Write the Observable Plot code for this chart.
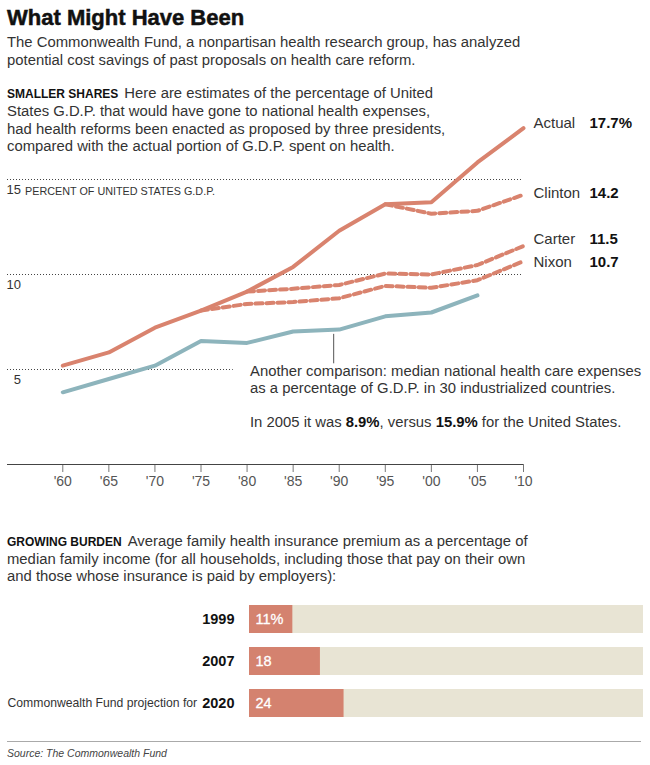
<!DOCTYPE html>
<html>
<head>
<meta charset="utf-8">
<script src="https://cdn.jsdelivr.net/npm/d3@7"></script>
<script src="https://cdn.jsdelivr.net/npm/@observablehq/plot@0.6"></script>
<style>
  body { margin: 0; background: #fff; }
  #wrap { position: relative; width: 650px; height: 765px; overflow: hidden;
          font-family: "Liberation Sans", Arial, Helvetica, sans-serif; color: #333; }
  .abs { position: absolute; white-space: nowrap; }
  .title { left: 7px; top: 5px; font-size: 22px; line-height: 26px; font-weight: bold; color: #111; -webkit-text-stroke: 0.5px #111; }
  .txt { font-size: 14.85px; line-height: 17.5px; }
  .kicker { font-weight: bold; font-size: 12px; color: #111; margin-right: 6px; }
  #lineChart { position: absolute; left: 0; top: 80px; }
  #barChart { position: absolute; left: 0; top: 590px; }
  .rule { position: absolute; left: 7px; width: 634px; top: 741px; height: 0; border-top: 1.5px solid #aaa; }
  .source { left: 7px; top: 747px; font-size: 10.5px; line-height: 12px; font-style: italic; color: #444; }
  b { color: #111; }
</style>
</head>
<body>
<div id="wrap">
  <div class="abs title">What Might Have Been</div>
  <div class="abs txt" style="left:7px;top:34px;">The Commonwealth Fund, a nonpartisan health research group, has analyzed<br>potential cost savings of past proposals on health care reform.</div>
  <div class="abs txt" style="left:7px;top:84.5px;"><span class="kicker">SMALLER SHARES</span>Here are estimates of the percentage of United<br>States G.D.P. that would have gone to national health expenses,<br>had health reforms been enacted as proposed by three presidents,<br>compared with the actual portion of G.D.P. spent on health.</div>
  <div id="lineChart"></div>
  <div class="abs txt" style="left:250px;top:362.7px;">Another comparison: median national health care expenses<br>as a percentage of G.D.P. in 30 industrialized countries.</div>
  <div class="abs txt" style="left:250px;top:413.7px;">In 2005 it was <b>8.9%</b>, versus <b>15.9%</b> for the United States.</div>
  <div class="abs txt" style="left:7px;top:533px;line-height:16.8px;"><span class="kicker">GROWING BURDEN</span>Average family health insurance premium as a percentage of<br>median family income (for all households, including those that pay on their own<br>and those whose insurance is paid by employers):</div>
  <div id="barChart"></div>
  <div class="rule"></div>
  <div class="abs source">Source: The Commonwealth Fund</div>
</div>
<script>
// ---------- Data ----------
const years = [1960, 1965, 1970, 1975, 1980, 1985, 1990, 1995, 2000, 2005, 2010];
const actual = [5.2, 5.9, 7.2, 8.1, 9.1, 10.4, 12.3, 13.7, 13.8, 15.9, 17.7];
const nixonYears = [1975, 1980, 1985, 1990, 1995, 2000, 2005, 2010];
const nixon = [8.1, 8.45, 8.55, 8.75, 9.4, 9.3, 9.7, 10.7];
const carterYears = [1980, 1985, 1990, 1995, 2000, 2005, 2010];
const carter = [9.1, 9.25, 9.45, 10.05, 10.0, 10.5, 11.5];
const clintonYears = [1995, 2000, 2005, 2010];
const clinton = [13.7, 13.2, 13.35, 14.2];
const medianYears = [1960, 1965, 1970, 1975, 1980, 1985, 1990, 1995, 2000, 2005];
const median30 = [3.8, 4.5, 5.2, 6.5, 6.4, 7.0, 7.1, 7.8, 8.0, 8.9];
const tickYears = [1960, 1965, 1970, 1975, 1980, 1985, 1990, 1995, 2000, 2005, 2010];
const gridValues = [15, 10, 5];
const gridEnds = [2010, 2010, 1978.5];
const endLabels = ["Actual", "Clinton", "Carter", "Nixon"];
const endValues = [17.7, 14.2, 11.5, 10.7];
const endValueText = ["17.7%", "14.2", "11.5", "10.7"];

const barYears = ["1999", "2007", "2020"];
const barValues = [11, 18, 24];
const barValueText = ["11%", "18", "24"];
const barPrefix = ["", "", "Commonwealth Fund projection for"];

// ---------- Line chart ----------
const toRows = (xs, vs) => xs.map((x, i) => ({year: x, v: vs[i]}));
const red = "#d9836e", blue = "#8db4bc";
const dash = "7,4";
const font = '"Liberation Sans", Arial, Helvetica, sans-serif';
const labelRows = endLabels.map((n, i) => ({name: n, v: endValues[i], t: endValueText[i]}));
const labelDy = {Actual: -4.8, Clinton: -1.7, Carter: -7, Nixon: 0.5};

const H = 420, mTop = 4, mBottom = 36, yMax = 20;
const pxPerUnit = (H - mTop - mBottom) / yMax;
const tickUnits = 8 / pxPerUnit;
const fmtYear = d => "'" + String(d).slice(2);

const lineMarks = [
  Plot.ruleY(gridValues, {y: d => d, x1: 1954, x2: (d, i) => gridEnds[i], stroke: "#444", strokeDasharray: "1,2", strokeWidth: 1}),
  Plot.text(gridValues, {x: 1954, y: d => d, text: d => String(d), textAnchor: "end", dx: 13.5, dy: 10.8, fontSize: 13, fill: "#333"}),
  Plot.text(gridValues.filter(d => d === 15), {x: 1954, y: d => d, text: () => "PERCENT OF UNITED STATES G.D.P.", textAnchor: "start", dx: 17.5, dy: 11.6, fontSize: 10.8, fill: "#333"}),
  Plot.ruleX(tickYears, {x: d => d, y1: 0, y2: -tickUnits, stroke: "#777", strokeWidth: 1}),
  Plot.text(tickYears, {x: d => d, y: 0, text: fmtYear, dy: 17.5, fontSize: 14, fill: "#555"}),
  Plot.ruleY([0], {stroke: "#444", strokeWidth: 1.2}),
  Plot.line(toRows(medianYears, median30), {x: "year", y: "v", stroke: blue, strokeWidth: 4, strokeLinejoin: "round"}),
  Plot.line(toRows(nixonYears, nixon), {x: "year", y: "v", stroke: red, strokeWidth: 4, strokeDasharray: dash}),
  Plot.line(toRows(carterYears, carter), {x: "year", y: "v", stroke: red, strokeWidth: 4, strokeDasharray: dash}),
  Plot.line(toRows(clintonYears, clinton), {x: "year", y: "v", stroke: red, strokeWidth: 4, strokeDasharray: dash}),
  Plot.line(toRows(years, actual), {x: "year", y: "v", stroke: red, strokeWidth: 4, strokeLinejoin: "round"}),
  Plot.ruleX([1989.4], {x: d => d, y1: 6.85, y2: 5.3, stroke: "#555", strokeWidth: 1})
];
for (const row of labelRows) {
  lineMarks.push(Plot.text([row], {x: 2010, y: "v", text: "name", textAnchor: "start", dx: 10, dy: labelDy[row.name], fontSize: 15, fill: "#333"}));
  lineMarks.push(Plot.text([row], {x: 2010, y: "v", text: "t", textAnchor: "start", dx: 66, dy: labelDy[row.name], fontSize: 15, fontWeight: "bold", fill: "#111"}));
}

const linePlot = Plot.plot({
  width: 650, height: H,
  marginLeft: 7, marginRight: 127, marginTop: mTop, marginBottom: mBottom,
  x: {domain: [1954, 2010], axis: null},
  y: {domain: [0, yMax], axis: null},
  style: {background: "transparent", fontFamily: font, fontSize: "13px", color: "#555", overflow: "visible"},
  marks: lineMarks
});
document.getElementById("lineChart").appendChild(linePlot);

// ---------- Bar chart ----------
const barRows = barYears.map((y, i) => ({year: y, v: barValues[i], t: barValueText[i], prefix: barPrefix[i]}));
const barPlot = Plot.plot({
  width: 650, height: 142,
  marginLeft: 249, marginRight: 7, marginTop: 0, marginBottom: 0,
  x: {domain: [0, 100], axis: null},
  y: {domain: barYears, padding: 0.341, axis: null},
  style: {background: "transparent", fontFamily: font, overflow: "visible"},
  marks: [
    Plot.barX(barRows, {y: "year", x1: 0, x2: 100, fill: "#e8e4d4"}),
    Plot.barX(barRows, {y: "year", x1: 0, x2: "v", fill: "#d4826f"}),
    Plot.text(barRows, {y: "year", x: 0, text: "t", textAnchor: "start", dx: 6, fontSize: 14.5, fill: "white", stroke: "white", strokeWidth: 0.3}),
    Plot.text(barRows, {y: "year", x: 0, text: "year", textAnchor: "end", dx: -15, fontSize: 14.5, fontWeight: "bold", fill: "#111"}),
    Plot.text(barRows.filter(d => d.prefix), {y: "year", x: 0, text: "prefix", textAnchor: "start", dx: -242, fontSize: 12.2, fill: "#333"})
  ]
});
document.getElementById("barChart").appendChild(barPlot);
</script>
</body>
</html>
